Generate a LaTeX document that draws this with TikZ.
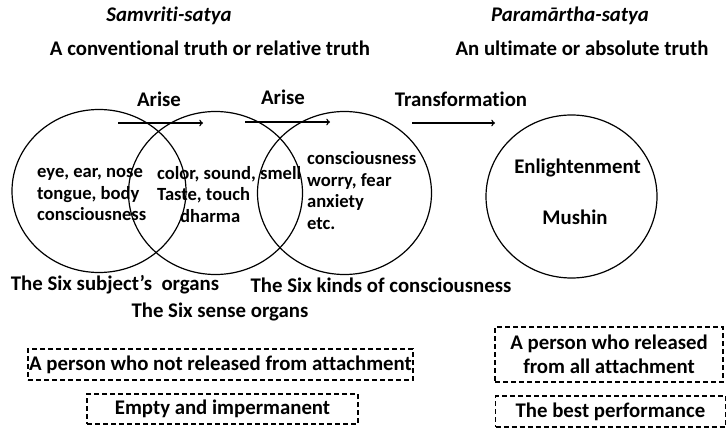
\documentclass[tikz,border=0pt]{standalone}
\usepackage{fontspec}
\setmainfont{Carlito}[Ligatures=NoCommon]
\usetikzlibrary{shapes.geometric}

\begin{document}
\begin{tikzpicture}[x=1pt,y=-1pt,
	every node/.style={font=\fontsize{20.8}{24}\selectfont\bfseries, inner sep=0pt},
	intext/.style={anchor=west, align=left, font=\fontsize{18.6}{21.6}\selectfont\bfseries},
	ring/.style={draw, ellipse, line width=1.2pt, minimum width=174pt, minimum height=163pt},
	dashbox/.style={draw, dashed, line width=1.2pt, dash pattern=on 5pt off 3pt},
	arrow/.style={->, line width=1.4pt}]

	\useasboundingbox (0,0) rectangle (727,430);

	%Titles of the two truths
	\node (samv) at (169,16) {\itshape Samvriti-satya};
	\node (conv) at (210,48) {A conventional truth or relative truth};
	\node (param) at (570,16) {\itshape Paramārtha-satya};
	\node (ulti) at (582,48) {An ultimate or absolute truth};

	%Drawing the circles
	\node [ring](c1) at (99,191) {};
	\node [ring](c2) at (215.5,193) {};
	\node [ring](c3) at (344.5,193) {};
	\node [ring, minimum width=171pt, minimum height=163pt](c4) at (571.5,196.5) {};

	%Arrows and their labels
	\coordinate (a1s) at (118,123);
	\coordinate (a1e) at (203,123);
	\coordinate (a2s) at (245,122);
	\coordinate (a2e) at (330,122);
	\coordinate (a3s) at (412,123);
	\coordinate (a3e) at (495,123);
	\draw [arrow] (a1s) -- (a1e);
	\draw [arrow] (a2s) -- (a2e);
	\draw [arrow] (a3s) -- (a3e);
	\node (ar1) at (159,99) {Arise};
	\node (ar2) at (283,97) {Arise};
	\node (trans) at (461,99) {Transformation};

	%Text inside the circles
	\node [intext](t1) at (37,194.5) {eye, ear, nose\\tongue, body\\consciousness};
	\node [intext](t2) at (157,194.5) {color, sound, smell\\Taste, touch\\\hspace*{23pt}dharma};
	\node [intext](t3) at (307,190.5) {consciousness\\worry, fear\\anxiety\\etc.};
	\node (enl) at (577.5,168) {Enlightenment};
	\node (mush) at (575,217) {Mushin};

	%Labels under the circles
	\node (l1) at (115,285) {The Six subject’s\ \ organs};
	\node (l3) at (381,285) {The Six kinds of consciousness};
	\node (l2) at (220,312) {The Six sense organs};

	%Dashed boxes
	\node [dashbox, minimum width=385pt, minimum height=31pt](b1) at (220.5,364.5) {A person who not released from attachment};
	\node [dashbox, minimum width=271pt, minimum height=30pt](b2) at (222.5,409) {Empty and impermanent};
	\node [dashbox, minimum width=228pt, minimum height=55pt, align=center](b3) at (609,354.5) {A person who released\\from all attachment};
	\node [dashbox, minimum width=230pt, minimum height=31pt](b4) at (610.5,411.5) {The best performance};

\end{tikzpicture}
\end{document}
